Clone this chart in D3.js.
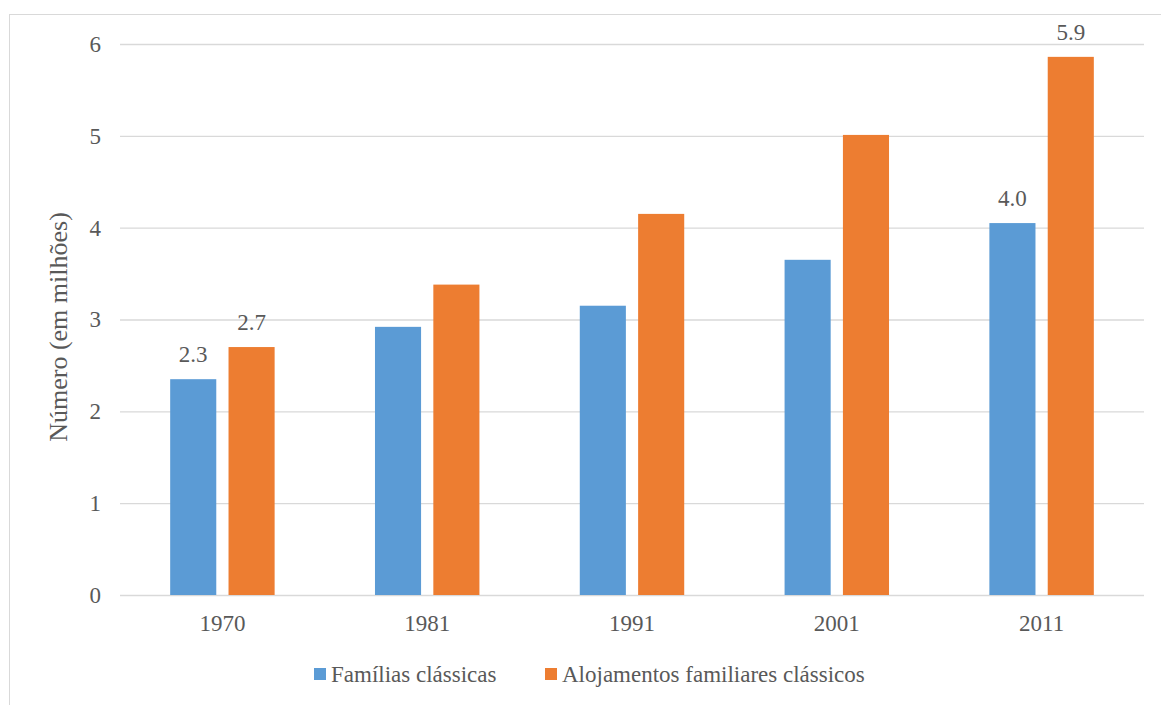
<!DOCTYPE html>
<html>
<head>
<meta charset="utf-8">
<script src="https://cdn.jsdelivr.net/npm/d3@7"></script>
<style>
	body { margin: 0; background: #fff; }
</style>
</head>
<body>
<div id="chart"></div>
<script>
// data (millions)
let years = ["1970", "1981", "1991", "2001", "2011"];
let series_names = ["Famílias clássicas", "Alojamentos familiares clássicos"];
let familias = [2.35, 2.92, 3.15, 3.65, 4.05];
let alojamentos = [2.70, 3.38, 4.15, 5.01, 5.86];
let y_ticks = [0, 1, 2, 3, 4, 5, 6];
// labels only shown on some bars
let label_familias = ["2.3", null, null, null, "4.0"];
let label_alojamentos = ["2.7", null, null, null, "5.9"];

let colors = ["#5B9BD5", "#ED7D31"];
let serif = "'Liberation Serif', 'Times New Roman', serif";
let text_color = "#595959";

let width = 1161;
let height = 705;
let margin = { top: 44, right: 17, bottom: 110, left: 120 };

let svg = d3.select("#chart")
	.append("svg")
	.attr("width", width)
	.attr("height", height)
	.style("font-family", serif);

// outer frame
svg.append("rect")
	.attr("x", 9.5)
	.attr("y", 14.5)
	.attr("width", width + 10)
	.attr("height", height + 10)
	.attr("fill", "none")
	.attr("stroke", "#d9d9d9")
	.attr("stroke-width", 1);

let x0 = d3.scaleBand()
	.domain(years)
	.range([margin.left, width - margin.right])
	.paddingInner(0.49)
	.paddingOuter(0.245);

let x1 = d3.scaleBand()
	.domain([0, 1])
	.range([0, x0.bandwidth()])
	.paddingInner(0.21);

let y = d3.scaleLinear()
	.domain([0, 6])
	.range([height - margin.bottom, margin.top]);

// gridlines + y labels
svg.append("g")
	.attr("transform", "translate(" + margin.left + ",0)")
	.call(d3.axisLeft(y).tickValues(y_ticks).tickFormat(d3.format("d"))
		.tickSize(-(width - margin.left - margin.right)).tickPadding(19))
	.call((g) => g.attr("font-family", null))
	.call((g) => g.select(".domain").remove())
	.call((g) => g.selectAll(".tick line").attr("stroke", "#d9d9d9").attr("stroke-width", 1.3))
	.call((g) => g.selectAll(".tick text")
		.style("font-family", serif)
		.attr("font-size", "23px")
		.attr("fill", text_color));

// x labels
svg.append("g")
	.attr("transform", "translate(0," + (height - margin.bottom) + ")")
	.call(d3.axisBottom(x0).tickSize(0).tickPadding(20))
	.call((g) => g.attr("font-family", null))
	.call((g) => g.select(".domain").remove())
	.call((g) => g.selectAll(".tick text")
		.style("font-family", serif)
		.attr("font-size", "23px")
		.attr("fill", text_color));

let table = years.map((yr, i) => ({
	year: yr,
	values: [
		{ s: 0, v: familias[i], label: label_familias[i] },
		{ s: 1, v: alojamentos[i], label: label_alojamentos[i] },
	],
}));

let groups = svg.selectAll(".grp")
	.data(table)
	.enter()
	.append("g")
	.attr("transform", (d) => "translate(" + x0(d.year) + ",0)");

groups.selectAll("rect")
	.data((d) => d.values)
	.enter()
	.append("rect")
	.attr("x", (d) => x1(d.s))
	.attr("y", (d) => y(d.v))
	.attr("width", x1.bandwidth())
	.attr("height", (d) => y(0) - y(d.v))
	.attr("fill", (d) => colors[d.s]);

groups.selectAll(".lbl")
	.data((d) => d.values.filter((v) => v.label))
	.enter()
	.append("text")
	.attr("class", "lbl")
	.attr("x", (d) => x1(d.s) + x1.bandwidth() / 2)
	.attr("y", (d) => y(d.v) - 17)
	.attr("text-anchor", "middle")
	.attr("font-size", "23px")
	.attr("fill", text_color)
	.style("font-family", serif)
	.text((d) => d.label);

// y title
svg.append("text")
	.attr("transform", "translate(67,327) rotate(-90)")
	.attr("text-anchor", "middle")
	.attr("font-size", "26px")
	.attr("fill", text_color)
	.style("font-family", serif)
	.text("Número (em milhões)");

// legend
let legend_x = [314, 545];
let legend = svg.selectAll(".legend")
	.data(series_names)
	.enter()
	.append("g")
	.attr("transform", (d, i) => "translate(" + legend_x[i] + ",668)");

legend.append("rect")
	.attr("width", 12)
	.attr("height", 12)
	.attr("fill", (d, i) => colors[i]);

legend.append("text")
	.attr("x", 17)
	.attr("y", 13.5)
	.attr("font-size", "23px")
	.attr("fill", text_color)
	.style("font-family", serif)
	.text((d) => d);
</script>
</body>
</html>
